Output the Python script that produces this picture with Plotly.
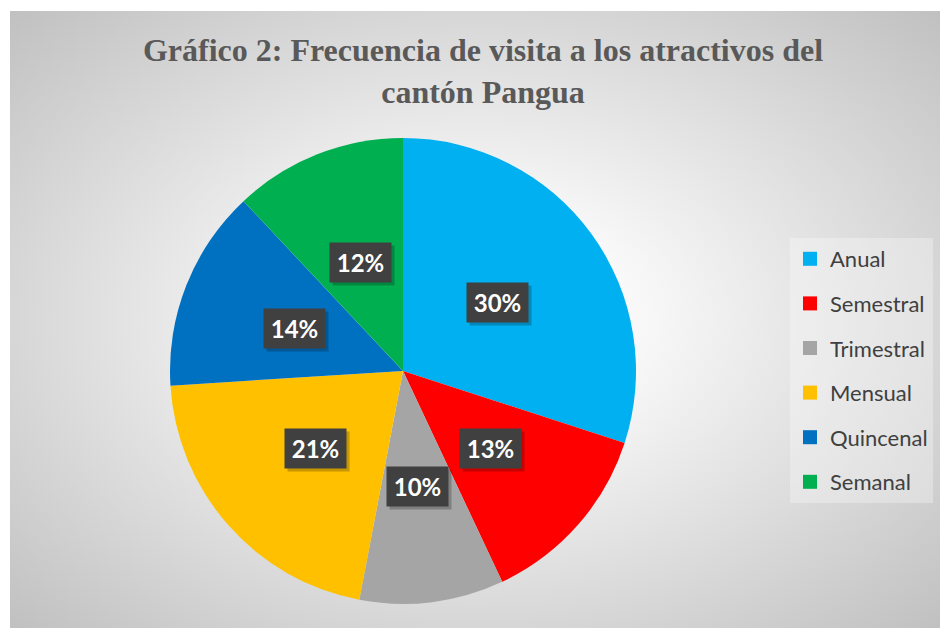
import base64
import math
import plotly.graph_objects as go

# ---- data ----
categories = ["Anual", "Semestral", "Trimestral", "Mensual", "Quincenal", "Semanal"]
values = [30, 13, 10, 21, 14, 12]
colors = ["#00B0F0", "#FF0000", "#A5A5A5", "#FFC000", "#0070C0", "#00B050"]
title_text = "Gráfico 2: Frecuencia de visita a los atractivos del<br>cantón Pangua"

W, H = 940, 628
CX, CY, R = 403, 371, 233  # pie centre / radius in pixels

fig = go.Figure()

fig.add_trace(go.Pie(
    labels=categories, values=values, sort=False, direction="clockwise",
    rotation=0, marker=dict(colors=colors, line=dict(width=0)),
    textinfo="none", hoverinfo="label+percent", showlegend=False,
    domain=dict(x=[(CX - R) / W, (CX + R) / W], y=[1 - (CY + R) / H, 1 - (CY - R) / H]),
))

# legend entries (one group per category for Excel-like spacing)
for cat, col in zip(categories, colors):
    fig.add_trace(go.Scatter(
        x=[None], y=[None], mode="markers", name=cat, legendgroup=cat,
        marker=dict(symbol="square", size=14, color=col), showlegend=True,
    ))

# data labels in dark boxes at the middle of each slice
total = sum(values)
cum = 0
for v in values:
    mid = (cum + v / 2) / total * 2 * math.pi
    cum += v
    px = CX + 0.5 * R * math.sin(mid)
    py = CY - 0.5 * R * math.cos(mid)
    pct = f"{round(v / total * 100)}%"
    common = dict(x=px / W, y=1 - py / H, xref="paper", yref="paper",
                  xanchor="center", yanchor="middle", showarrow=False,
                  width=51, height=29, borderpad=5)
    # shadow
    fig.add_annotation(text="", bgcolor="rgba(0,0,0,0.22)", xshift=3, yshift=-3, **common)
    fig.add_annotation(text=f"<b>{pct}</b>", bgcolor="#404040",
                       font=dict(family="Lato, Open Sans, sans-serif", size=24, color="white"),
                       **common)

svg = '''<svg xmlns="http://www.w3.org/2000/svg" width="930" height="617" viewBox="0 0 930 617" preserveAspectRatio="none">
<defs><radialGradient id="g" cx="0.5" cy="0.5" r="0.72" fx="0.5" fy="0.5">
<stop offset="0" stop-color="#ffffff"/><stop offset="0.25" stop-color="#f8f8f8"/>
<stop offset="1" stop-color="#bfbfbf"/></radialGradient></defs>
<rect x="0" y="0" width="930" height="617" fill="url(#g)"/></svg>'''
src = "data:image/svg+xml;base64," + base64.b64encode(svg.encode()).decode()

fig.add_layout_image(dict(source=src, xref="paper", yref="paper", x=10 / W, y=1 - 11 / H,
                          sizex=(W - 10) / W, sizey=(H - 11) / H, sizing="stretch",
                          xanchor="left", yanchor="top", layer="below"))

fig.update_layout(
    width=W, height=H,
    margin=dict(l=0, r=0, t=0, b=0),
    paper_bgcolor="white", plot_bgcolor="rgba(0,0,0,0)",
    xaxis=dict(visible=False, domain=[0, 1]), yaxis=dict(visible=False, domain=[0, 1]),
    title=dict(text=title_text, x=483 / W, xanchor="center", y=1 - 61 / H, yanchor="middle",
               font=dict(family="Liberation Serif, Times New Roman, serif", size=32, color="#595959",
                         weight="bold")),
    legend=dict(x=790 / W, xanchor="left", y=1 - 238 / H, yanchor="top",
                bgcolor="rgba(255,255,255,0.3)", traceorder="grouped", tracegroupgap=13,
                itemwidth=30,
                font=dict(family="Lato, Open Sans, sans-serif", size=22, color="#404040"),
                itemclick=False),
)

fig.write_html("out.html", config={"displayModeBar": False},
               post_script="document.body.style.margin='0';document.body.style.overflow='hidden';")
